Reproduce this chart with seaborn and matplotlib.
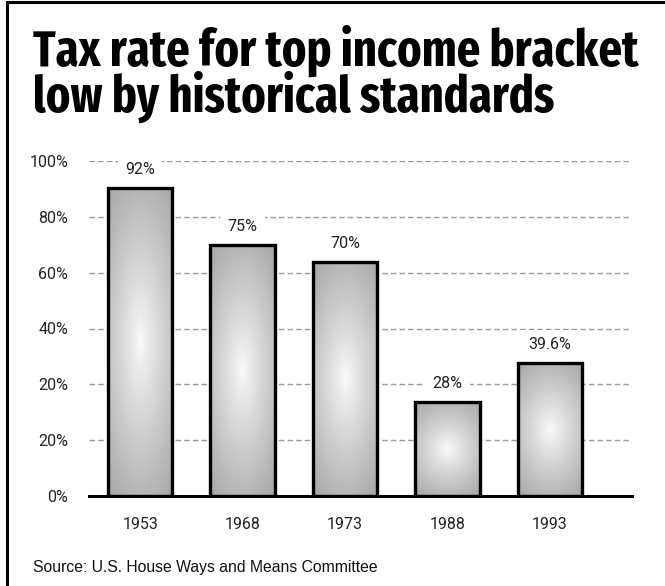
import numpy as np
import pandas as pd
import matplotlib
matplotlib.use("Agg")
import matplotlib.pyplot as plt
from matplotlib.lines import Line2D
import seaborn as sns

# Data
years = ["1953", "1968", "1973", "1988", "1993"]
rates = [92, 75, 70, 28, 39.6]
rate_labels = ["92%", "75%", "70%", "28%", "39.6%"]
tick_values = [0, 100 / 6, 200 / 6, 50, 400 / 6, 500 / 6, 100]
tick_labels = ["0%", "20%", "20%", "40%", "60%", "80%", "100%"]

title_lines = ["Tax rate for top income bracket", "low by historical standards"]
source = "Source: U.S. House Ways and Means Committee"

sns.set_theme(style="white")
plt.rcParams["font.family"] = ["Roboto", "DejaVu Sans"]

df = pd.DataFrame({"year": years, "rate": rates})

W, H = 665, 586
fig = plt.figure(figsize=(W / 100, H / 100), dpi=100)
ax = fig.add_axes([89 / W, 1 - 496 / H, (632 - 89) / W, (496 - 161) / H])

sns.barplot(data=df, x="year", y="rate", order=years, ax=ax,
            width=0.63, facecolor="none", edgecolor="black",
            linewidth=2.4, zorder=3)

ax.set_xlim(-0.5, 4.8)
ax.set_ylim(0, 100)

# Radial grey shading inside each bar
ny, nx = 200, 80
yy, xx = np.mgrid[-1:1:ny * 1j, -1:1:nx * 1j]
r = np.sqrt((xx ** 2) * 0.6 + yy ** 2) / np.sqrt(1.6)
shade = 0.98 - 0.33 * np.clip(r, 0, 1) ** 0.9
for patch in ax.patches:
    x0, y0 = patch.get_x(), patch.get_y()
    w, h = patch.get_width(), patch.get_height()
    im = ax.imshow(shade, cmap="gray", vmin=0, vmax=1, origin="lower",
                   extent=[x0, x0 + w, y0, y0 + h], aspect="auto",
                   interpolation="bilinear", zorder=2)
    im.set_clip_path(patch)

ax.set_xlim(-0.5, 4.8)
ax.set_ylim(0, 100)

# Dashed gridlines
for tv in tick_values[1:]:
    ax.axhline(tv, color="#9a9a9a", lw=1.0, ls=(0, (4, 2.2)), zorder=1)

ax.set_yticks(tick_values)
ax.set_yticklabels(tick_labels, fontsize=11.5, color="#222222")
ax.tick_params(axis="y", length=0, pad=15)
ax.tick_params(axis="x", length=0, pad=15, labelsize=11.5, labelcolor="#222222")
ax.set_xlabel("")
ax.set_ylabel("")
for s in ["left", "right", "top"]:
    ax.spines[s].set_visible(False)
ax.spines["bottom"].set_color("black")
ax.spines["bottom"].set_linewidth(2.2)
ax.spines["bottom"].set_zorder(4)

# Value labels above bars
for i, (v, lab) in enumerate(zip(rates, rate_labels)):
    ax.text(i, v + 5.5, lab, ha="center", va="center", fontsize=11.5,
            color="#222222", zorder=5,
            bbox=dict(boxstyle="square,pad=0.45", fc="white", ec="none"))

# Two-line headline, sized to span the top of the figure
renderer = fig.canvas.get_renderer()
t1 = fig.text(33 / W, 1 - 66 / H, title_lines[0], ha="left", va="baseline",
              fontsize=34, fontweight="bold", color="black",
              family=["Fira Sans Extra Condensed", "DejaVu Sans"])
t2 = fig.text(33 / W, 1 - 112 / H, title_lines[1], ha="left", va="baseline",
              fontsize=34, fontweight="bold", color="black",
              family=["Fira Sans Extra Condensed", "DejaVu Sans"])
fs = 34 * 607 / t1.get_window_extent(renderer).width
t1.set_fontsize(fs)
t2.set_fontsize(fs)

fig.text(33 / W, 1 - 572 / H, source, ha="left", va="baseline", fontsize=11.3,
         family=["Liberation Sans", "DejaVu Sans"], color="#111111")

# Frame lines at left and top
fig.add_artist(Line2D([7 / W, 7 / W], [0.0, 1 - 2 / H], transform=fig.transFigure,
                      color="black", lw=2.2))
fig.add_artist(Line2D([7 / W, 1.0], [1 - 2 / H, 1 - 2 / H], transform=fig.transFigure,
                      color="black", lw=2.2))

fig.savefig("out.png", dpi=100)
